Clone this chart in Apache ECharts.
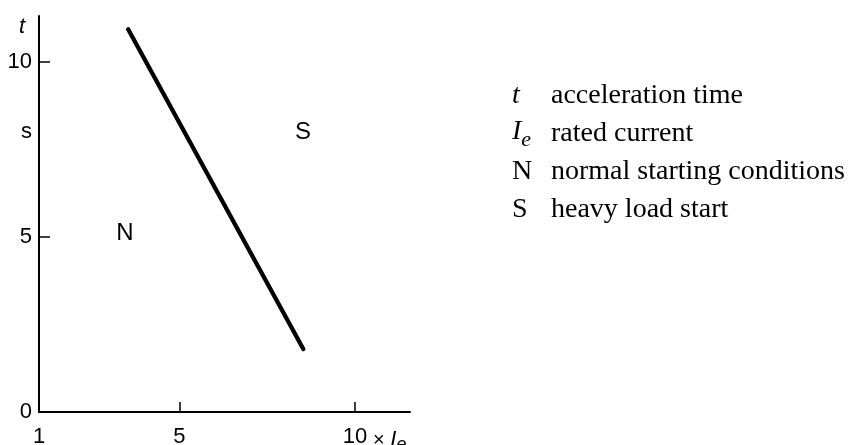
<!DOCTYPE html>
<html>
<head>
<meta charset="utf-8">
<script src="https://cdn.jsdelivr.net/npm/echarts@6/dist/echarts.min.js"></script>
<style>
html, body { margin: 0; padding: 0; background: #fff; }
#chart { width: 849px; height: 445px; }
</style>
</head>
<body>
<div id="chart"></div>
<script>
// values
var boundaryLine = [[3.54, 10.94], [8.53, 1.80]];          // [x Ie, t in s]
var regionLabels = [
  { name: 'N', value: [3.45, 5.1] },
  { name: 'S', value: [8.52, 8.0] }
];
var xLabelValues = [1, 5, 10];
var xTickValues = [5, 10];
var yLabelValues = [0, 5, 10];
var yTickValues = [5, 10];
var yUnitAt = 8;      // "s"
var yNameAt = 11;     // "t"
var legendSymbols = ['t', 'Ie', 'N', 'S'];
var legendTexts = ['acceleration time', 'rated current', 'normal starting conditions', 'heavy load start'];

var sans = "'Liberation Sans Narrow', 'Liberation Sans', Arial, sans-serif";
var serif = "'Liberation Serif', 'Times New Roman', serif";

var chart = echarts.init(document.getElementById('chart'));

// legend block on the right (plain text)
var legendGraphic = [];
var rowY = [95.5, 132, 171.5, 209.5];
for (var i = 0; i < legendTexts.length; i++) {
  var sym = legendSymbols[i];
  var symText;
  if (sym === 't') symText = '{it|t}';
  else if (sym === 'Ie') symText = '{it|I}{sub|e}';
  else symText = '{rm|' + sym + '}';
  legendGraphic.push({
    type: 'text',
    x: 512,
    y: rowY[i],
    style: {
      text: symText,
      align: 'left',
      verticalAlign: 'middle',
      fill: '#000',
      rich: {
        it: { fontFamily: serif, fontSize: 28, fontStyle: 'italic', color: '#000' },
        rm: { fontFamily: serif, fontSize: 28, color: '#000' },
        sub: { fontFamily: serif, fontSize: 22, fontStyle: 'italic', color: '#000', padding: [16, 0, 0, 0] }
      }
    }
  });
  legendGraphic.push({
    type: 'text',
    x: 551,
    y: i === 1 ? 133.5 : rowY[i],
    style: {
      text: legendTexts[i],
      align: 'left',
      verticalAlign: 'middle',
      fill: '#000',
      fontFamily: serif,
      fontSize: 28
    }
  });
}

chart.setOption({
  animation: false,
  backgroundColor: '#fff',
  grid: {
    left: 39,
    right: 439,
    top: 16,
    bottom: 33,
    outerBoundsMode: 'none',
    containLabel: false
  },
  xAxis: {
    type: 'value',
    min: 1,
    max: 11.57,
    name: '{x|× }{i|I}{e|e}',
    nameLocation: 'end',
    nameGap: -49,
    nameTextStyle: {
      align: 'left',
      verticalAlign: 'top',
      padding: [14, 0, 0, 0],
      rich: {
        x: { fontFamily: sans, fontSize: 20, color: '#000' },
        i: { fontFamily: sans, fontSize: 22, fontStyle: 'italic', color: '#000' },
        e: { fontFamily: sans, fontSize: 18, fontStyle: 'italic', color: '#000', padding: [10, 0, 0, 0] }
      }
    },
    axisLine: { onZero: false, lineStyle: { color: '#000', width: 2 } },
    axisTick: {
      inside: true,
      length: 10,
      customValues: xTickValues,
      lineStyle: { color: '#000', width: 1.5 }
    },
    axisLabel: {
      customValues: xLabelValues,
      margin: 14,
      color: '#000',
      fontFamily: sans,
      fontSize: 22
    },
    splitLine: { show: false }
  },
  yAxis: {
    type: 'value',
    min: 0,
    max: 11.32,
    axisLine: { onZero: false, lineStyle: { color: '#000', width: 2 } },
    axisTick: {
      inside: true,
      length: 11,
      customValues: yTickValues,
      lineStyle: { color: '#000', width: 1.5 }
    },
    axisLabel: {
      customValues: yLabelValues.concat([yUnitAt, yNameAt]),
      margin: 7,
      color: '#000',
      fontFamily: sans,
      fontSize: 22,
      formatter: function (v) {
        if (v === yUnitAt) return 's';
        if (v === yNameAt) return '{it|t}';
        return String(v);
      },
      rich: {
        it: { fontFamily: sans, fontSize: 22, fontStyle: 'italic', color: '#000', padding: [0, 7, 0, 0] }
      }
    },
    splitLine: { show: false }
  },
  series: [
    {
      type: 'line',
      data: boundaryLine,
      symbol: 'none',
      lineStyle: { color: '#000', width: 4.3, cap: 'round' },
      silent: true
    },
    {
      type: 'scatter',
      data: regionLabels,
      symbolSize: 1,
      itemStyle: { color: 'rgba(0,0,0,0)', opacity: 1 },
      label: {
        show: true,
        position: 'inside',
        formatter: '{b}',
        color: '#000',
        opacity: 1,
        fontFamily: sans,
        fontSize: 24
      },
      silent: true
    }
  ],
  graphic: legendGraphic
});
</script>
</body>
</html>
